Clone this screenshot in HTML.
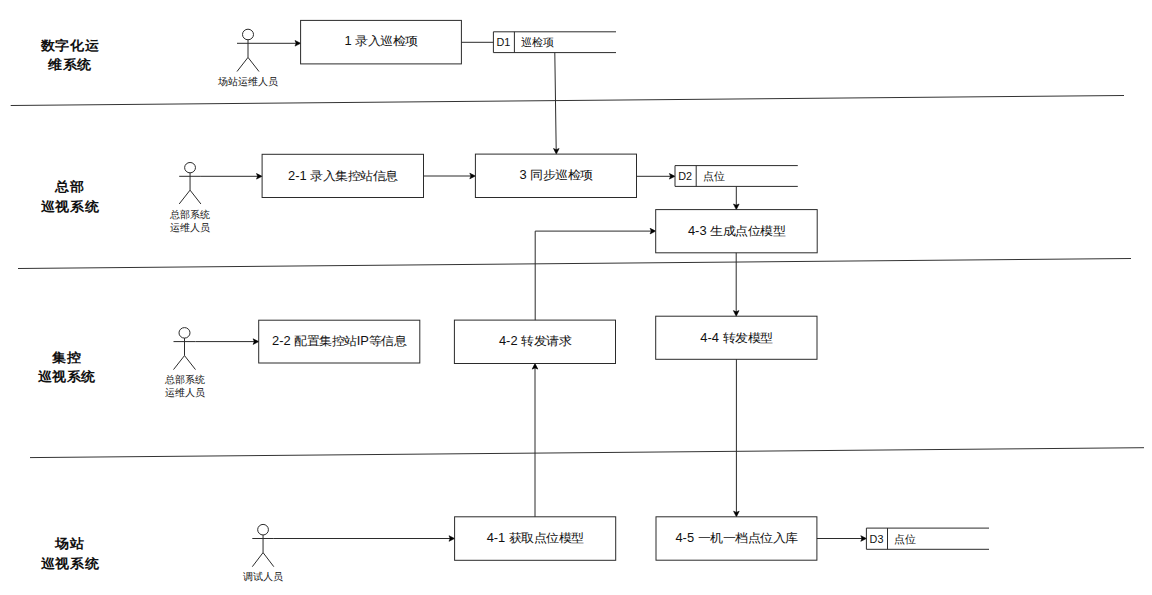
<!DOCTYPE html>
<html><head><meta charset="utf-8"><style>
html,body{margin:0;padding:0;background:#fff;width:1152px;height:595px;overflow:hidden}
svg{display:block}
text{font-family:"Liberation Sans",sans-serif;fill:#111}
.bt{font-size:12.8px;text-anchor:middle}
.st{font-size:10.8px}
.at{font-size:10.4px;text-anchor:middle}
.lt{font-size:14px;font-weight:bold;text-anchor:middle}
</style></head><body>
<svg width="1152" height="595" viewBox="0 0 1152 595">
<line x1="10.7" y1="105.5" x2="1124" y2="95.5" stroke="#333" stroke-width="1"/>
<line x1="18" y1="268.5" x2="1131" y2="258.5" stroke="#333" stroke-width="1"/>
<line x1="30" y1="457.6" x2="1144" y2="447.7" stroke="#333" stroke-width="1"/>
<path d="M259 43.3 L297 43.3" fill="none" stroke="#2b2b2b" stroke-width="1"/>
<path d="M300.60 43.30 L295.00 40.50 L296.20 43.30 L295.00 46.10 Z" fill="#000" stroke="#000" stroke-width="0.6"/>
<path d="M461.4 42.3 L493.4 42.3" fill="none" stroke="#2b2b2b" stroke-width="1"/>
<path d="M554.8 52.6 L556.2 150" fill="none" stroke="#2b2b2b" stroke-width="1"/>
<path d="M556.30 154.10 L553.50 148.50 L556.30 149.70 L559.10 148.50 Z" fill="#000" stroke="#000" stroke-width="0.6"/>
<path d="M200.9 176.3 L258 176.3" fill="none" stroke="#2b2b2b" stroke-width="1"/>
<path d="M262.10 176.30 L256.50 173.50 L257.70 176.30 L256.50 179.10 Z" fill="#000" stroke="#000" stroke-width="0.6"/>
<path d="M423.5 176 L471 176" fill="none" stroke="#2b2b2b" stroke-width="1"/>
<path d="M475.40 176.00 L469.80 173.20 L471.00 176.00 L469.80 178.80 Z" fill="#000" stroke="#000" stroke-width="0.6"/>
<path d="M636.5 176.3 L671 176.3" fill="none" stroke="#2b2b2b" stroke-width="1"/>
<path d="M675.00 176.30 L669.40 173.50 L670.60 176.30 L669.40 179.10 Z" fill="#000" stroke="#000" stroke-width="0.6"/>
<path d="M736.3 186.4 L736.3 206" fill="none" stroke="#2b2b2b" stroke-width="1"/>
<path d="M736.30 209.60 L733.50 204.00 L736.30 205.20 L739.10 204.00 Z" fill="#000" stroke="#000" stroke-width="0.6"/>
<path d="M535.2 320.1 L535.2 231.1 L652 231.1" fill="none" stroke="#2b2b2b" stroke-width="1"/>
<path d="M655.70 231.10 L650.10 228.30 L651.30 231.10 L650.10 233.90 Z" fill="#000" stroke="#000" stroke-width="0.6"/>
<path d="M736.2 252.8 L736.2 312" fill="none" stroke="#2b2b2b" stroke-width="1"/>
<path d="M736.20 316.20 L733.40 310.60 L736.20 311.80 L739.00 310.60 Z" fill="#000" stroke="#000" stroke-width="0.6"/>
<path d="M195.5 341.6 L255 341.6" fill="none" stroke="#2b2b2b" stroke-width="1"/>
<path d="M258.70 341.60 L253.10 338.80 L254.30 341.60 L253.10 344.40 Z" fill="#000" stroke="#000" stroke-width="0.6"/>
<path d="M535.0 516.8 L535.0 367" fill="none" stroke="#2b2b2b" stroke-width="1"/>
<path d="M535.00 363.50 L532.20 369.10 L535.00 367.90 L537.80 369.10 Z" fill="#000" stroke="#000" stroke-width="0.6"/>
<path d="M736.4 359.3 L736.4 513" fill="none" stroke="#2b2b2b" stroke-width="1"/>
<path d="M736.40 516.80 L733.60 511.20 L736.40 512.40 L739.20 511.20 Z" fill="#000" stroke="#000" stroke-width="0.6"/>
<path d="M273.8 538.5 L451 538.5" fill="none" stroke="#2b2b2b" stroke-width="1"/>
<path d="M454.60 538.50 L449.00 535.70 L450.20 538.50 L449.00 541.30 Z" fill="#000" stroke="#000" stroke-width="0.6"/>
<path d="M816.9 538.5 L863 538.5" fill="none" stroke="#2b2b2b" stroke-width="1"/>
<path d="M866.40 538.50 L860.80 535.70 L862.00 538.50 L860.80 541.30 Z" fill="#000" stroke="#000" stroke-width="0.6"/>
<rect x="300.6" y="20.4" width="160.8" height="43.5" fill="none" stroke="#2b2b2b" stroke-width="1"/>
<text transform="translate(381.0 44.8) scale(1.01 0.93)" class="bt">1 录入巡检项</text>
<rect x="262.1" y="154.3" width="161.4" height="43.2" fill="none" stroke="#2b2b2b" stroke-width="1"/>
<text transform="translate(342.8 179.5) scale(1.01 0.93)" class="bt">2-1 录入集控站信息</text>
<rect x="475.4" y="154.1" width="161.1" height="43.4" fill="none" stroke="#2b2b2b" stroke-width="1"/>
<text transform="translate(556.0 179.4) scale(1.01 0.93)" class="bt">3 同步巡检项</text>
<rect x="655.7" y="209.6" width="161.5" height="43.2" fill="none" stroke="#2b2b2b" stroke-width="1"/>
<text transform="translate(736.5 234.8) scale(1.01 0.93)" class="bt">4-3 生成点位模型</text>
<rect x="258.7" y="320.2" width="161.1" height="42.8" fill="none" stroke="#2b2b2b" stroke-width="1"/>
<text transform="translate(339.2 345.2) scale(1.01 0.93)" class="bt">2-2 配置集控站IP等信息</text>
<rect x="454.4" y="320.1" width="161.1" height="43.4" fill="none" stroke="#2b2b2b" stroke-width="1"/>
<text transform="translate(535.0 345.4) scale(1.01 0.93)" class="bt">4-2 转发请求</text>
<rect x="655.7" y="316.2" width="161.3" height="43.1" fill="none" stroke="#2b2b2b" stroke-width="1"/>
<text transform="translate(736.4 342.4) scale(1.01 0.93)" class="bt">4-4 转发模型</text>
<rect x="454.6" y="516.8" width="161.1" height="43.5" fill="none" stroke="#2b2b2b" stroke-width="1"/>
<text transform="translate(535.2 542.1) scale(1.01 0.93)" class="bt">4-1 获取点位模型</text>
<rect x="656.0" y="516.8" width="160.9" height="43.4" fill="none" stroke="#2b2b2b" stroke-width="1"/>
<text transform="translate(736.5 542.1) scale(1.01 0.93)" class="bt">4-5 一机一档点位入库</text>
<path d="M616 31.8 H493.4 V52.6 H616" fill="none" stroke="#2b2b2b" stroke-width="1"/>
<path d="M514.4 31.8 V52.6" stroke="#2b2b2b" stroke-width="1"/>
<text x="503.4" y="46.2" class="st" text-anchor="middle">D1</text>
<text x="520.9" y="46.2" class="st" text-anchor="start">巡检项</text>
<path d="M797.8 165.6 H675.0 V186.4 H797.8" fill="none" stroke="#2b2b2b" stroke-width="1"/>
<path d="M696.2 165.6 V186.4" stroke="#2b2b2b" stroke-width="1"/>
<text x="685.1" y="180.0" class="st" text-anchor="middle">D2</text>
<text x="702.7" y="180.0" class="st" text-anchor="start">点位</text>
<path d="M989 528.1 H866.4 V549.3 H989" fill="none" stroke="#2b2b2b" stroke-width="1"/>
<path d="M887.5 528.1 V549.3" stroke="#2b2b2b" stroke-width="1"/>
<text x="876.5" y="542.7" class="st" text-anchor="middle">D3</text>
<text x="894.0" y="542.7" class="st" text-anchor="start">点位</text>
<ellipse cx="248.00" cy="34.49" rx="5.50" ry="5.29" fill="#fff" stroke="#2b2b2b" stroke-width="1"/>
<path d="M248.00 39.77 V57.40 M237.00 43.30 H259.00 M248.00 57.40 L237.00 71.50 M248.00 57.40 L259.00 71.50" fill="none" stroke="#2b2b2b" stroke-width="1"/>
<text x="248.00" y="85.00" class="at">场站运维人员</text>
<ellipse cx="190.05" cy="167.66" rx="5.42" ry="5.19" fill="#fff" stroke="#2b2b2b" stroke-width="1"/>
<path d="M190.05 172.84 V190.14 M179.20 176.30 H200.90 M190.05 190.14 L179.20 203.97 M190.05 190.14 L200.90 203.97" fill="none" stroke="#2b2b2b" stroke-width="1"/>
<text x="190.05" y="218.47" class="at">总部系统</text>
<text x="190.05" y="231.47" class="at">运维人员</text>
<ellipse cx="184.50" cy="332.85" rx="5.50" ry="5.25" fill="#fff" stroke="#2b2b2b" stroke-width="1"/>
<path d="M184.50 338.10 V355.60 M173.50 341.60 H195.50 M184.50 355.60 L173.50 369.60 M184.50 355.60 L195.50 369.60" fill="none" stroke="#2b2b2b" stroke-width="1"/>
<text x="184.50" y="383.10" class="at">总部系统</text>
<text x="184.50" y="396.10" class="at">运维人员</text>
<ellipse cx="263.05" cy="529.69" rx="5.38" ry="5.29" fill="#fff" stroke="#2b2b2b" stroke-width="1"/>
<path d="M263.05 534.98 V552.60 M252.30 538.50 H273.80 M263.05 552.60 L252.30 566.70 M263.05 552.60 L273.80 566.70" fill="none" stroke="#2b2b2b" stroke-width="1"/>
<text x="263.05" y="580.20" class="at">调试人员</text>
<text transform="translate(70.0 50.4) scale(1.035 0.96)" class="lt">数字化运</text>
<text transform="translate(70.0 68.7) scale(1.035 0.96)" class="lt">维系统</text>
<text transform="translate(70.0 191.3) scale(1.035 0.96)" class="lt">总部</text>
<text transform="translate(70.0 210.6) scale(1.035 0.96)" class="lt">巡视系统</text>
<text transform="translate(66.6 361.9) scale(1.035 0.96)" class="lt">集控</text>
<text transform="translate(66.6 380.9) scale(1.035 0.96)" class="lt">巡视系统</text>
<text transform="translate(70.0 547.9) scale(1.035 0.96)" class="lt">场站</text>
<text transform="translate(70.0 567.7) scale(1.035 0.96)" class="lt">巡视系统</text>
</svg>
</body></html>
